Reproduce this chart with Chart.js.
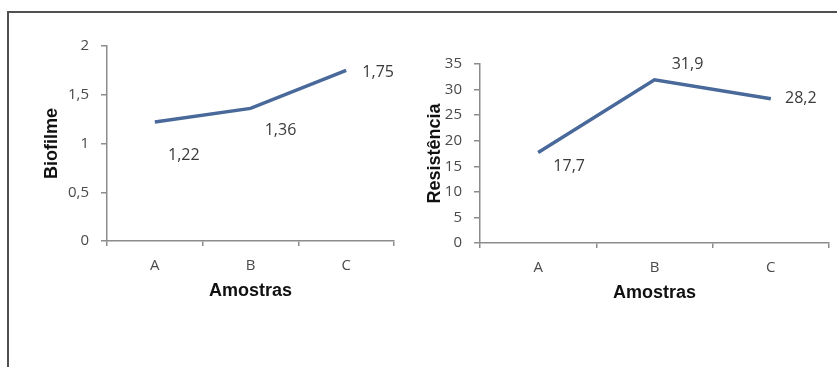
<!DOCTYPE html>
<html>
<head>
<meta charset="utf-8">
<script src="https://cdn.jsdelivr.net/npm/chart.js@4"></script>
<style>
  html, body { margin: 0; padding: 0; background: #fff; }
  #frame { position: absolute; left: 0; top: 0; width: 837px; height: 367px; overflow: hidden; }
  #border { position: absolute; left: 7px; top: 11px; width: 840px; height: 370px;
            border-left: 2px solid #505050; border-top: 2px solid #505050; box-sizing: border-box; }
  .box { position: absolute; top: 0; height: 367px; }
  #boxL { left: 0; width: 418px; }
  #boxR { left: 418px; width: 419px; }
</style>
</head>
<body>
<div id="frame">
  <div id="border"></div>
  <div class="box" id="boxL"><canvas id="chartL"></canvas></div>
  <div class="box" id="boxR"><canvas id="chartR"></canvas></div>
</div>
<script>
// Samples on the horizontal axis
const amostras = ['A', 'B', 'C'];

// Biofilm readings per sample
const biofilme = [1.22, 1.36, 1.75];
const biofilmeTicks = [0, 0.5, 1, 1.5, 2];

// Resistance readings per sample
const resistencia = [17.7, 31.9, 28.2];
const resistenciaTicks = [0, 5, 10, 15, 20, 25, 30, 35];

const LINE = '#48699a';
const AXIS = '#8c8c8c';
const TEXT = '#4a4a4a';
const TICK_FONT = { family: '"Open Sans", "DejaVu Sans", sans-serif', size: 15 };
const TITLE_FONT = { family: '"Liberation Sans", Arial, sans-serif', size: 18, weight: 'bold' };

const fmt = v => String(v).replace('.', ',');

// Writes each point's value beside it (decimal comma)
const valueLabels = {
  id: 'valueLabels',
  afterDatasetsDraw(chart, args, opts) {
    const ctx = chart.ctx;
    const meta = chart.getDatasetMeta(0);
    const data = chart.data.datasets[0].data;
    ctx.save();
    ctx.font = '16px "Open Sans", "DejaVu Sans", sans-serif';
    ctx.fillStyle = '#3a3a3a';
    ctx.textAlign = 'center';
    ctx.textBaseline = 'middle';
    meta.data.forEach((pt, i) => {
      const [dx, dy] = opts.offsets[i];
      ctx.fillText(fmt(data[i]), pt.x + dx, pt.y + dy);
    });
    ctx.restore();
  }
};

function makeChart(id, values, ticks, yTitle, cfg) {
  return new Chart(document.getElementById(id), {
    type: 'line',
    data: {
      labels: amostras,
      datasets: [{
        data: values,
        borderColor: LINE,
        borderWidth: 3.5,
        pointRadius: 0,
        tension: 0,
        fill: false
      }]
    },
    options: {
      responsive: true,
      maintainAspectRatio: false,
      animation: false,
      events: [],
      layout: { padding: cfg.padding },
      plugins: {
        legend: { display: false },
        tooltip: { enabled: false },
        valueLabels: { offsets: cfg.offsets }
      },
      scales: {
        x: {
          offset: true,
          grid: { offset: true, drawOnChartArea: false, drawTicks: true, tickLength: 5, color: AXIS, lineWidth: 1.5 },
          border: { color: AXIS, width: 1.5 },
          ticks: { color: TEXT, font: TICK_FONT, padding: 11, maxRotation: 0 },
          title: { display: true, text: 'Amostras', color: '#111', font: TITLE_FONT, padding: { top: 0, bottom: 0 } },
          afterFit: s => { s.height = cfg.xHeight; }
        },
        y: {
          min: ticks[0],
          max: ticks[ticks.length - 1],
          afterBuildTicks: s => { s.ticks = ticks.map(v => ({ value: v })); },
          grid: { drawOnChartArea: false, drawTicks: true, tickLength: 6, color: AXIS, lineWidth: 1.5 },
          border: { color: AXIS, width: 1.5 },
          ticks: { color: TEXT, font: TICK_FONT, padding: 12, callback: v => fmt(v) },
          title: { display: true, text: yTitle, color: '#111', font: TITLE_FONT, padding: { top: cfg.yTitlePad, bottom: 0 } },
          afterFit: s => { s.width = cfg.yWidth; }
        }
      }
    },
    plugins: [valueLabels]
  });
}

makeChart('chartL', biofilme, biofilmeTicks, 'Biofilme', {
  padding: { top: 46, right: 24, bottom: 65, left: 0 },
  xHeight: 61,
  yWidth: 107,
  yTitlePad: 41,
  offsets: [[29, 33], [30, 22], [32, 2]]
});

makeChart('chartR', resistencia, resistenciaTicks, 'Resistência', {
  padding: { top: 64, right: 8, bottom: 63, left: 0 },
  xHeight: 61,
  yWidth: 62,
  yTitlePad: 6,
  offsets: [[31, 14], [33, -15], [30, 0]]
});
</script>
</body>
</html>
